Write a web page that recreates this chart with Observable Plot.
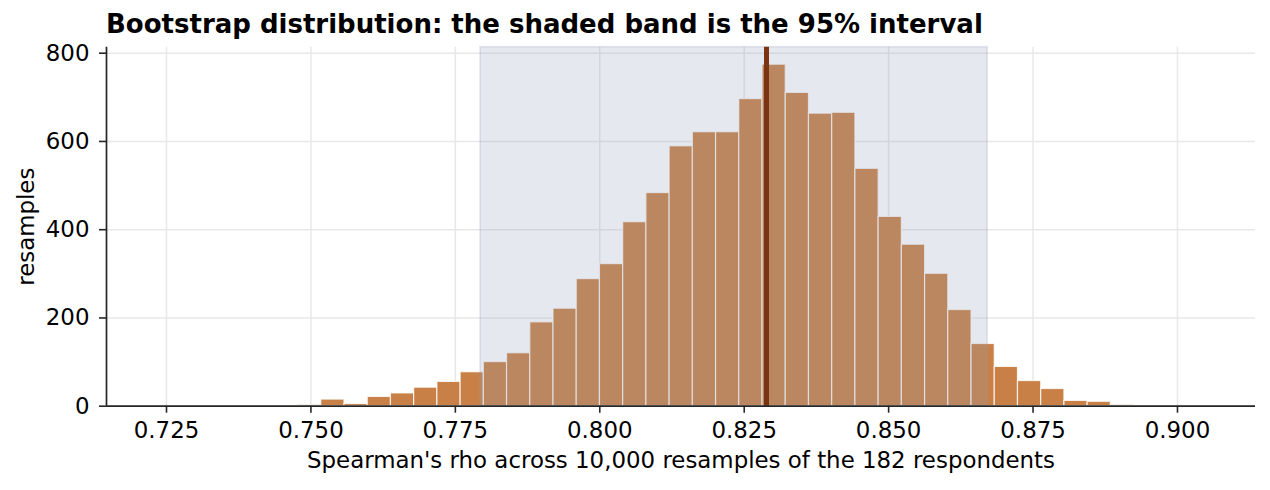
<!DOCTYPE html>
<html><head><meta charset="utf-8">
<script src="https://cdn.jsdelivr.net/npm/d3@7"></script>
<script src="https://cdn.jsdelivr.net/npm/@observablehq/plot@0.6"></script>
<style>
body{margin:0;background:#fff;}
#title{box-sizing:border-box;height:40px;padding:11px 0 0 106px;font:bold 26px "DejaVu Sans";line-height:1;color:#000;white-space:nowrap;}
</style></head><body>
<div id="title">Bootstrap distribution: the shaded band is the 95% interval</div>
<div id="chart"></div>
<script>
// histogram of bootstrap Spearman's rho (10,000 resamples)
const binStart = 0.74777;
const binWidth = 0.00402;
const counts = [3,15,5,21,29,42,55,77,100,120,190,221,288,322,417,483,589,621,621,696,774,710,663,665,538,429,366,300,218,141,89,57,39,12,10,3];
const ciLow = 0.77936;
const ciHigh = 0.86714;
const rhoObserved = 0.82886;
const xTicks = [0.725, 0.75, 0.775, 0.8, 0.825, 0.85, 0.875, 0.9];
const yTicks = [0, 200, 400, 600, 800];
const xLabel = "Spearman's rho across 10,000 resamples of the 182 respondents";
const yLabel = "resamples";

const bins = counts.map((c, i) => ({x1: binStart + i * binWidth, x2: binStart + (i + 1) * binWidth, count: c}));

const fs = 22.9;
const chart = Plot.plot({
  width: 1270,
  height: 450,
  marginTop: 6.7,
  marginBottom: 84.3,
  marginLeft: 106,
  marginRight: 15,
  style: {fontFamily: "DejaVu Sans", fontSize: fs + "px", color: "#000", background: "#fff"},
  x: {domain: [0.714614, 0.913506]},
  y: {domain: [0, 813.6]},
  marks: [
    Plot.gridX(xTicks, {stroke: "#e8e8e8", strokeOpacity: 1, strokeWidth: 1.5}),
    Plot.gridY(yTicks, {stroke: "#e8e8e8", strokeOpacity: 1, strokeWidth: 1.5}),
    Plot.rectY(bins, {x1: "x1", x2: "x2", y: "count", fill: "#C98046", stroke: "#fff", strokeOpacity: 0.8, strokeWidth: 1.2}),
    Plot.rect([{a: ciLow, b: ciHigh}], {x1: "a", x2: "b", fill: "#919EB7", fillOpacity: 0.237, stroke: "#8f9bb3", strokeOpacity: 0.25, strokeWidth: 1.5}),
    Plot.ruleX([rhoObserved], {stroke: "#7B3413", strokeWidth: 5}),
    Plot.ruleX([0.714614], {stroke: "#262626", strokeWidth: 1.7}),
    Plot.ruleY([0], {stroke: "#262626", strokeWidth: 1.7}),
    Plot.axisX(xTicks, {tickSize: 7, tickPadding: 9, strokeWidth: 1.6, stroke: "#262626", tickFormat: d3.format(".3f"), label: null, fontSize: fs}),
    Plot.axisY(yTicks, {tickSize: 7, tickPadding: 10, strokeWidth: 1.6, stroke: "#262626", tickFormat: d3.format("d"), label: null, fontSize: fs}),
    Plot.text([xLabel], {frameAnchor: "bottom", lineAnchor: "middle", dy: 54.7, fontSize: fs, fill: "#000"}),
    Plot.text([yLabel], {frameAnchor: "left", textAnchor: "middle", lineAnchor: "middle", rotate: -90, dx: -80, fontSize: fs, fill: "#000"})
  ]
});
document.getElementById("chart").appendChild(chart);
</script>
</body></html>
